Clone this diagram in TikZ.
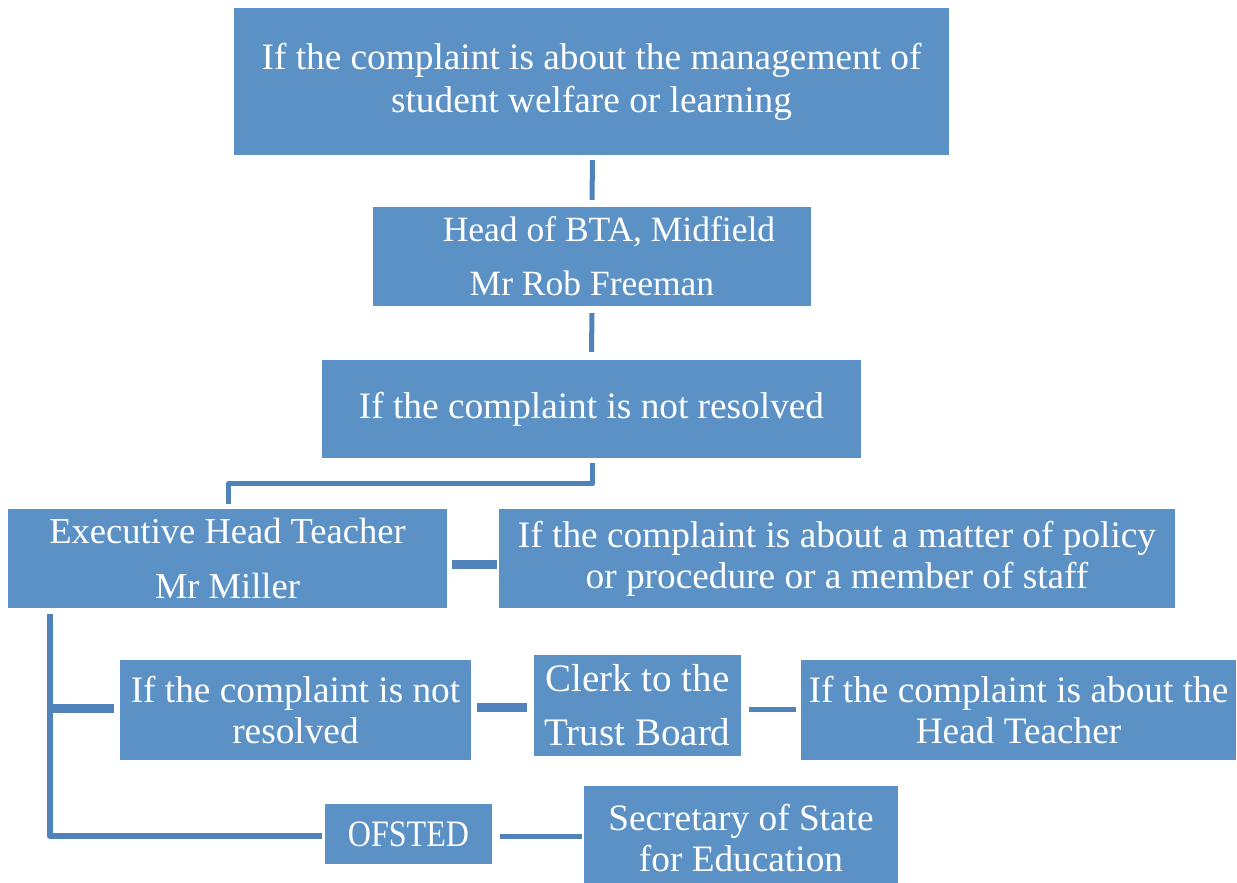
\documentclass[tikz,border=0pt]{standalone}
\usepackage{fontspec}
\setmainfont{Liberation Serif}
\usetikzlibrary{calc}
\definecolor{boxfill}{RGB}{92,145,198}
\definecolor{linecol}{RGB}{80,131,186}
\begin{document}
\begin{tikzpicture}[x=1pt,y=-1pt,
  box/.style={fill=boxfill,draw=none,inner sep=0pt,align=center,text=white},
  tight/.style={font=\fontsize{37.3}{41}\selectfont},
  loose/.style={font=\fontsize{37.3}{54}\selectfont},
  conn/.style={draw=linecol,line join=round,line cap=butt}]
\useasboundingbox (0,0) rectangle (1237,883);
\fill[white] (0,0) rectangle (1237,883);
\node[box,font=\fontsize{37.3}{43}\selectfont,minimum width=715pt,minimum height=147pt] (top) at (591.5,81.5)
  {If the complaint is about the management of\\student welfare or learning};
\node[box,font=\fontsize{35.5}{54}\selectfont,minimum width=438pt,minimum height=99pt] (head) at (592,256.5)
  {\hspace*{34pt}Head of BTA, Midfield\\Mr Rob Freeman};
\node[box,tight,minimum width=539pt,minimum height=98pt] (nr1) at (591.5,409)
  {If the complaint is not resolved};
\node[box,font=\fontsize{36.5}{55}\selectfont,minimum width=439pt,minimum height=99pt] (exec) at (227.5,558.5)
  {Executive Head Teacher\\Mr Miller};
\node[box,tight,minimum width=676pt,minimum height=99pt] (policy) at (837,558.5)
  {If the complaint is about a matter of policy\\or procedure or a member of staff};
\node[box,tight,minimum width=351pt,minimum height=100pt] (nr2) at (295.5,710)
  {If the complaint is not\\resolved};
\node[box,font=\fontsize{39}{54}\selectfont,minimum width=207pt,minimum height=101pt] (clerk) at (637.5,705.5)
  {Clerk to the\\Trust Board};
\node[box,tight,minimum width=435pt,minimum height=100pt] (headt) at (1018.5,710)
  {If the complaint is about the\\Head Teacher};
\node[box,tight,minimum width=167pt,minimum height=60pt] (ofsted) at (408.5,834)
  {\scalebox{0.86}[1]{OFSTED}};
\node[box,tight,minimum width=314pt,minimum height=104pt] (sec) at (741,838)
  {Secretary of State\\for Education};
% connectors
\draw[conn,line width=5pt] ($(top.south)+(1,5)$) -- ($(head.north)+(0,-7)$);
\draw[conn,line width=5pt] ($(head.south)+(0,7)$) -- ($(nr1.north)+(0,-8)$);
\draw[conn,line width=5pt] ($(nr1.south)+(1,5)$) |- ($(exec.north)+(1,-25)$) -- ($(exec.north)+(1,-5)$);
\draw[conn,line width=9pt] ($(exec.east)+(5,5.5)$) -- ($(policy.west |- exec.east)+(-2,5.5)$);
\coordinate (vx) at ($(exec.south west)+(42,6)$);
\draw[conn,line width=6pt] (vx) |- ($(ofsted.west)+(-3,2)$);
\draw[conn,line width=9pt] ($(vx |- nr2.west)+(0,-2)$) -- ($(nr2.west)+(-6,-2)$);
\draw[conn,line width=9pt] ($(nr2.east)+(6,-3)$) -- ($(clerk.west |- nr2.east)+(-7,-3)$);
\draw[conn,line width=5pt] ($(clerk.east |- headt.west)+(8,-1)$) -- ($(headt.west)+(-5,-1)$);
\draw[conn,line width=5pt] ($(ofsted.east)+(8,2)$) -- ($(sec.west |- ofsted.east)+(-2,2)$);
\end{tikzpicture}
\end{document}
